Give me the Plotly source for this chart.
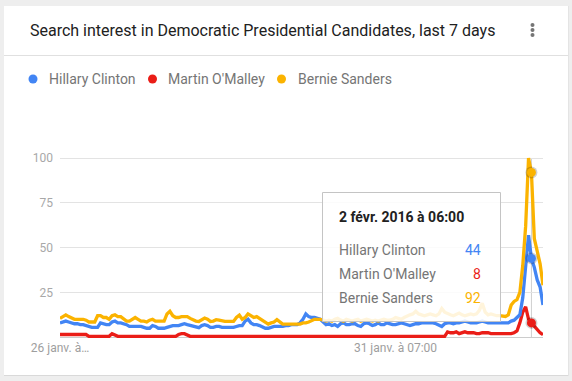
import pandas as pd
import plotly.graph_objects as go

# ---------------- data ----------------
series_names = ["Hillary Clinton", "Martin O'Malley", "Bernie Sanders"]
series_colors = ["#4285f4", "#ea1d17", "#fbb300"]

timestamps = pd.date_range("2016-01-26 11:00", periods=168, freq="h")

hillary = [
    8, 8.5, 9, 8.5, 8, 7.5, 7.5, 7, 7, 6.5,
    6, 5.5, 5.5, 5.5, 8, 7.5, 7, 7, 8.5, 9,
    8, 8, 7.5, 7, 6, 6, 6, 6, 6, 5.5,
    5, 5, 6.5, 6, 5, 5, 5, 5.5, 6, 6.5,
    6.5, 6.5, 7,
    7.5, 7, 6.5, 6, 5.5, 5.3, 6.5, 7, 6.5, 5.5,
    5.5, 6, 6, 5.5, 5.5, 5.5, 5.5, 5.5, 6, 6.5,
    6.5, 9, 10, 8, 7, 7, 6.5, 5.5, 5, 5,
    5.5, 6, 6, 6, 6, 6.5, 6.5, 7, 7, 7,
    8, 10, 13, 11.5,
    11, 11,
    10.5, 10, 8.5, 7, 7.5, 6.5, 7, 6, 7.5, 8,
    7, 7, 7.5, 7.5, 6.5, 6, 7.5, 8, 7.5, 6.5,
    7, 8, 7, 7, 8, 7.5, 7, 7, 7.5, 8,
    7.5, 7, 6.5, 7, 7.5, 7.5,
    8, 8, 8, 8, 8, 7.5, 6.5, 6, 7.5, 8,
    8, 7.5, 8, 8, 8.5, 9, 8.5, 8, 8, 8,
    8.5, 9, 8.5, 8, 8, 8, 8, 8, 8, 8,
    8, 9, 9.5, 11, 12.5, 22, 38, 57, 44, 39,
    32, 28, 18,
]

omalley = [
    1.5, 1.5, 1.5, 1.5, 1.5, 1.5, 1.5, 1.5, 1.5, 1.5,
    0.5, 0.5, 0.5, 0.5, 0.5, 0.5, 0.5, 0.5, 2, 1,
    0.5, 0.5, 0.5, 0.5, 0.5, 0.5, 0.5, 0.5, 0.5, 0.5,
    0.5, 0.5, 0.5, 0.5, 0.5, 0.5, 0.5, 0.5, 0.5, 0.5,
    0.5, 1.5, 2, 2, 1, 0.5, 0.5, 0.5, 0.5, 0.5,
    0.5, 0.5, 0.5, 0.5, 0.5, 0.5, 0.5, 0.5, 0.5, 0.5,
    0.5, 0.5, 0.5, 0.5, 0.5, 0.5, 0.5, 0.5, 0.5, 0.5,
    0.5, 0.5, 0.5, 0.5, 0.5, 0.5, 0.5, 0.5, 0.5, 0.5,
    0.5, 0.5, 0.5, 0.5, 0.5, 0.5, 0.5, 0.5, 0.5, 0.5,
    0.5, 0.5, 0.5, 0.5, 0.5, 0.5, 0.5, 0.5, 0.5, 0.5,
    0.5, 0.5, 0.5, 0.5, 0.5, 0.5, 0.5, 0.5, 0.5, 0.5,
    0.5, 0.5, 0.5, 0.5, 0.5, 0.5, 0.5, 0.5, 0.5, 0.5,
    0.5, 0.5, 0.5, 0.5, 0.5, 0.5, 0.5, 0.5, 0.5, 0.5,
    0.5, 0.5, 0.5, 0.5,
    3, 2.5, 2.5, 3, 2, 2.5, 3, 2.5, 2.5, 2.5,
    2, 2, 2.5, 2.5, 2.5, 2, 2, 2, 2, 2, 2, 2, 2,
    2.5, 3.5, 8, 14, 17, 10, 8, 6, 4, 2.5, 1.4,
]

sanders = [
    10.5, 11.5, 12.5, 11.5, 10.5, 10, 10, 10, 10, 9.5, 8.5, 8.5, 8.5,
    12, 12, 11, 11, 10, 12, 12.5, 11.5, 11.5, 10, 9, 9, 10,
    11, 10, 9, 9, 8.5, 9.5, 10, 9, 9, 9, 9, 13, 14.5, 12, 11, 11, 11.5,
    11.5, 11.5, 10.5, 9.8, 9, 8.8, 10, 10.7, 10, 8.8, 9, 9.8, 9.5, 9, 8.8, 8.8, 8.8, 8.8,
    11, 12.3, 10, 11, 13, 12, 11, 11.5, 10.5, 9.8,
    8.5, 7.3, 8, 8.5, 9.8, 8.5, 7.3, 7.3, 7.3, 7.3, 7.3, 7.3, 7.3, 8, 8, 8.5,
    9.5, 10, 10, 10,
    9.5, 9, 9.5, 9, 10, 10.5, 9.5, 9, 10, 9.5,
    9, 9.5, 10, 9, 9.5, 10, 9.5, 9, 9.5, 9,
    9.5, 10, 9.5, 9.5, 10, 11, 10.5, 10, 11, 12,
    12.5, 13, 14.5, 13, 12.5, 12, 12.5, 13, 12.5, 12,
    13, 16, 14, 13, 12.5, 12, 13, 13.5, 12.5, 12,
    12.5, 13, 12.5, 13, 15, 19, 14, 12.5, 13, 12.5, 12, 12,
    11.6, 11.6, 12.5, 18, 20, 21, 25, 40, 62, 100, 92, 55, 48, 41, 29,
]

series_values = [hillary, omalley, sanders]

y_tick_values = [25, 50, 75, 100]
x_tick_index = [0, 116]
x_tick_labels = ["26 janv. à…", "31 janv. à 07:00"]
hover_index = 163
hover_title = "2 févr. 2016 à 06:00"
chart_title = "Search interest in Democratic Presidential Candidates, last 7 days"

# ---------------- layout geometry ----------------
W, H = 572, 381
ML, MR, MT, MB = 60, 29, 150, 42
PW, PH = W - ML - MR, H - MT - MB


def px(x):
    return (x - ML) / PW


def py(y):
    return (H - MB - y) / PH


FONT = "Roboto, Arial, sans-serif"

fig = go.Figure()

# draw order: red, blue, orange (orange on top)
for k in [1, 0, 2]:
    fig.add_trace(go.Scatter(
        x=timestamps, y=series_values[k], mode="lines",
        line=dict(color=series_colors[k], width=3.3),
        showlegend=False, hoverinfo="skip",
    ))

# hover markers with soft shadow
for k in [1, 0, 2]:
    fig.add_trace(go.Scatter(
        x=[timestamps[hover_index]], y=[series_values[k][hover_index]],
        mode="markers", marker=dict(size=12, color="rgba(0,0,0,0.18)", line=dict(width=0)),
        showlegend=False, hoverinfo="skip",
    ))
    fig.add_trace(go.Scatter(
        x=[timestamps[hover_index]], y=[series_values[k][hover_index]],
        mode="markers", marker=dict(size=9, color=series_colors[k], line=dict(width=0)),
        showlegend=False, hoverinfo="skip",
    ))

shapes = []
# card shadow + card
shapes.append(dict(type="rect", xref="paper", yref="paper", layer="below",
                   x0=px(4), x1=px(568.5), y0=py(6), y1=py(376),
                   fillcolor="#d9d9d9", line=dict(width=0)))
shapes.append(dict(type="rect", xref="paper", yref="paper", layer="below",
                   x0=px(4), x1=px(568), y0=py(6), y1=py(375),
                   fillcolor="#ffffff", line=dict(width=0)))
# header divider
shapes.append(dict(type="line", xref="paper", yref="paper", layer="below",
                   x0=px(4), x1=px(568), y0=py(55.5), y1=py(55.5),
                   line=dict(color="#e0e0e0", width=1)))
# menu dots
for cy in [25, 30, 35]:
    shapes.append(dict(type="circle", xref="paper", yref="paper", layer="below",
                       x0=px(530.5), x1=px(534.5), y0=py(cy - 2), y1=py(cy + 2),
                       fillcolor="#757575", line=dict(width=0)))
# legend dots
legend_dot_x = [33, 152.5, 281.5]
legend_text_x = [46.5, 166, 295.5]
legend_y = 79
for k in range(3):
    shapes.append(dict(type="circle", xref="paper", yref="paper", layer="above",
                       x0=px(legend_dot_x[k] - 4.5), x1=px(legend_dot_x[k] + 4.5),
                       y0=py(legend_y - 4.5), y1=py(legend_y + 4.5),
                       fillcolor=series_colors[k], line=dict(width=0)))
# hover vertical line
shapes.append(dict(type="line", xref="x", yref="y", layer="below",
                   x0=timestamps[hover_index], x1=timestamps[hover_index],
                   y0=0, y1=100, line=dict(color="#cfcfcf", width=1)))
# tooltip box
shapes.append(dict(type="rect", xref="paper", yref="paper", layer="above",
                   x0=px(322.5), x1=px(500.5), y0=py(192.5), y1=py(321.5),
                   fillcolor="rgba(255,255,255,0.86)",
                   line=dict(color="#c4c4c4", width=1)))

annotations = []
annotations.append(dict(text=chart_title, xref="paper", yref="paper",
                        x=px(27.5), y=py(30), xanchor="left", yanchor="middle",
                        showarrow=False, font=dict(family=FONT, size=16, color="#212121")))
for k in range(3):
    annotations.append(dict(text=series_names[k], xref="paper", yref="paper",
                            x=px(legend_text_x[k]), y=py(legend_y), xanchor="left", yanchor="middle",
                            showarrow=False, font=dict(family=FONT, size=14, color="#757575")))
# tooltip texts
annotations.append(dict(text="<b>" + hover_title + "</b>", xref="paper", yref="paper",
                        x=px(337), y=py(217), xanchor="left", yanchor="middle",
                        showarrow=False, font=dict(family=FONT, size=14, color="#212121")))
row_y = [249.5, 273.5, 297.5]
for k in range(3):
    annotations.append(dict(text=series_names[k], xref="paper", yref="paper",
                            x=px(337), y=py(row_y[k]), xanchor="left", yanchor="middle",
                            showarrow=False, font=dict(family=FONT, size=14, color="#757575")))
    annotations.append(dict(text=str(int(series_values[k][hover_index])), xref="paper", yref="paper",
                            x=px(483), y=py(row_y[k]), xanchor="right", yanchor="middle",
                            showarrow=False, font=dict(family=FONT, size=14, color=series_colors[k])))

fig.update_layout(
    width=W, height=H,
    margin=dict(l=ML, r=MR, t=MT, b=MB),
    paper_bgcolor="#eeeeee",
    plot_bgcolor="rgba(0,0,0,0)",
    shapes=shapes,
    annotations=annotations,
    showlegend=False,
    font=dict(family=FONT),
    xaxis=dict(
        range=[timestamps[0], timestamps[-1]],
        tickvals=[timestamps[i] for i in x_tick_index],
        ticktext=x_tick_labels,
        showgrid=False, zeroline=False, showline=False,
        ticks="", tickfont=dict(family=FONT, size=12, color="#9e9e9e"),
        fixedrange=True,
    ),
    yaxis=dict(
        range=[-1, 104.5],
        tickvals=y_tick_values,
        showgrid=True, gridcolor="#e3e3e3", gridwidth=1,
        zeroline=True, zerolinecolor="#cccccc", zerolinewidth=1,
        showline=False, ticks="",
        ticklabelstandoff=6,
        tickfont=dict(family=FONT, size=12, color="#a8a8a8"),
        fixedrange=True,
    ),
)

fig.write_html(
    "out.html",
    config={"displayModeBar": False},
    post_script="document.body.style.margin='0';document.body.style.background='#eeeeee';",
)
